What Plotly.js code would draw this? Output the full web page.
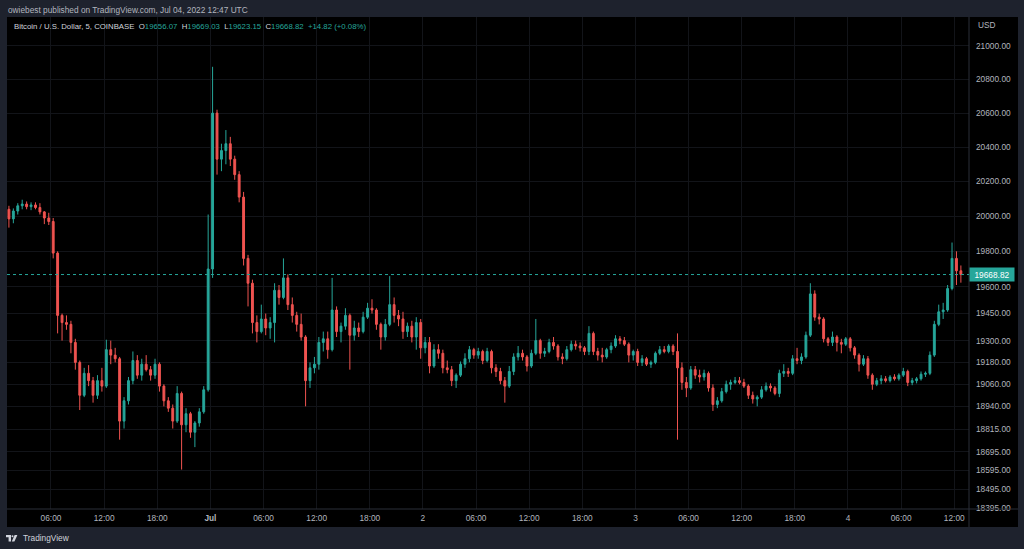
<!DOCTYPE html>
<html><head><meta charset="utf-8">
<script src="https://cdn.plot.ly/plotly-3.0.1.min.js"></script>
<style>html,body{margin:0;padding:0;background:#1e222d;overflow:hidden}#chart{width:1024px;height:549px}</style>
</head><body><div id="chart"></div>
<script>
// 30-minute candles (COINBASE), Jun 30 01:00 – Jul 4 12:30 UTC
const startTimeUTC = Date.UTC(2022, 5, 30, 1, 0);
const intervalMinutes = 30;

const openPrices = [
20040,19985,20030,20060,20070,20055,20065,20050,20025,19990,
19970,19790,19440,19400,19390,19290,19180,19000,19120,19080,
19000,19080,19050,19250,19220,19200,18860,18970,19080,19190,
19110,19170,19140,19110,19170,19050,18970,18930,18860,19010,
18840,18900,18800,18850,18910,19030,19700,20600,20330,20380,
20420,20330,20240,20110,19760,19620,19400,19350,19420,19370,
19400,19580,19540,19650,19500,19440,19390,19320,19080,19150,
19170,19290,19310,19250,19470,19350,19380,19440,19330,19370,
19350,19430,19480,19470,19390,19320,19390,19500,19440,19420,
19350,19380,19320,19400,19260,19290,19160,19250,19230,19150,
19140,19080,19110,19170,19200,19250,19220,19240,19190,19240,
19150,19130,19080,19050,19130,19210,19230,19210,19160,19230,
19300,19230,19240,19290,19270,19210,19200,19250,19280,19270,
19260,19240,19340,19240,19220,19210,19250,19270,19310,19300,
19280,19220,19240,19180,19200,19170,19180,19230,19250,19240,
19270,19240,19150,19070,19040,19140,19110,19100,19120,19040,
18950,18970,19020,19060,19070,19080,19070,19050,19000,18980,
18990,19030,19050,19040,19010,19120,19130,19120,19200,19190,
19210,19330,19560,19430,19420,19310,19290,19320,19290,19280,
19310,19260,19220,19170,19200,19110,19060,19080,19090,19080,
19100,19090,19110,19130,19070,19080,19090,19115,19120,19220,
19390,19460,19470,19590,19760,19690];

const highPrices = [
20060,20045,20075,20095,20085,20080,20080,20075,20030,20020,
19990,19800,19450,19440,19410,19310,19190,19150,19165,19100,
19110,19150,19305,19300,19260,19210,18990,19100,19240,19220,
19200,19220,19160,19200,19180,19060,18990,18950,19050,19020,
18930,18910,18860,18930,19050,20010,20875,20620,20420,20500,
20460,20350,20260,20140,19780,19640,19440,19500,19450,19430,
19620,19610,19760,19670,19540,19460,19450,19330,19180,19210,
19320,19350,19350,19650,19490,19400,19480,19450,19410,19400,
19460,19510,19530,19480,19400,19420,19660,19540,19470,19460,
19400,19410,19430,19420,19320,19320,19280,19280,19250,19190,
19160,19120,19185,19230,19270,19260,19260,19250,19260,19250,
19170,19150,19100,19160,19230,19270,19250,19220,19250,19420,
19310,19260,19310,19320,19280,19230,19270,19300,19300,19290,
19270,19380,19350,19260,19260,19260,19290,19330,19325,19320,
19290,19250,19255,19220,19210,19190,19240,19270,19270,19280,
19280,19340,19180,19100,19160,19160,19140,19140,19130,19060,
18990,19040,19080,19085,19100,19100,19090,19060,19020,19000,
19050,19070,19065,19050,19140,19170,19150,19220,19260,19230,
19350,19620,19580,19450,19430,19320,19350,19330,19310,19320,
19320,19270,19230,19220,19215,19120,19095,19110,19105,19110,
19115,19120,19150,19140,19095,19100,19130,19130,19240,19410,
19500,19510,19610,19850,19800,19720];

const lowPrices = [
19935,19960,20010,20040,20040,20035,20040,20010,19955,19950,
19760,19340,19300,19360,19230,19140,18920,18990,19050,18960,
18980,19020,19040,19170,19180,18760,18820,18950,19060,19090,
19080,19130,19080,19090,19020,18940,18910,18820,18850,18600,
18800,18770,18720,18830,18900,19020,19650,20240,20260,20300,
20290,20210,20080,19720,19490,19340,19290,19340,19330,19310,
19290,19500,19530,19470,19400,19350,19300,18940,19040,19120,
19140,19240,19200,19240,19320,19290,19360,19140,19300,19320,
19340,19420,19450,19360,19250,19300,19380,19400,19380,19310,
19320,19290,19250,19200,19230,19120,19150,19200,19120,19120,
19050,19040,19100,19150,19180,19200,19200,19170,19180,19120,
19100,19060,18960,19040,19110,19190,19190,19130,19150,19220,
19200,19210,19230,19250,19190,19170,19190,19240,19250,19240,
19220,19220,19220,19190,19180,19200,19230,19260,19280,19270,
19180,19190,19160,19160,19160,19150,19170,19220,19230,19230,
19220,18760,19030,18990,19030,19090,19070,19080,19020,18915,
18930,18960,19010,19030,19060,19060,19040,18980,18955,18940,
18980,19020,19020,19000,18990,19100,19100,19110,19170,19170,
19200,19320,19410,19390,19290,19270,19270,19240,19230,19270,
19240,19200,19130,19160,19090,19030,19050,19060,19070,19070,
19080,19080,19100,19050,19055,19065,19080,19100,19110,19210,
19380,19420,19460,19580,19610,19623.15];

const closePrices = [
19985,20030,20060,20070,20055,20065,20050,20025,19990,19970,
19790,19440,19400,19390,19290,19180,19000,19120,19080,19000,
19080,19050,19250,19220,19200,18860,18970,19080,19190,19110,
19170,19140,19110,19170,19050,18970,18930,18860,19010,18840,
18900,18800,18850,18910,19030,19700,20600,20330,20380,20420,
20330,20240,20110,19760,19620,19400,19350,19420,19370,19400,
19580,19540,19650,19500,19440,19390,19320,19080,19150,19170,
19290,19310,19250,19470,19350,19380,19440,19330,19370,19350,
19430,19480,19470,19390,19320,19390,19500,19440,19420,19350,
19380,19320,19400,19260,19290,19160,19250,19230,19150,19140,
19080,19110,19170,19200,19250,19220,19240,19190,19240,19150,
19130,19080,19050,19130,19210,19230,19210,19160,19230,19300,
19230,19240,19290,19270,19210,19200,19250,19280,19270,19260,
19240,19340,19240,19220,19210,19250,19270,19310,19300,19280,
19220,19240,19180,19200,19170,19180,19230,19250,19240,19270,
19240,19150,19070,19040,19140,19110,19100,19120,19040,18950,
18970,19020,19060,19070,19080,19070,19050,19000,18980,18990,
19030,19050,19040,19010,19120,19130,19120,19200,19190,19210,
19330,19560,19430,19420,19310,19290,19320,19290,19280,19310,
19260,19220,19170,19200,19110,19060,19080,19090,19080,19100,
19090,19110,19130,19070,19080,19090,19115,19120,19220,19390,
19460,19470,19590,19760,19690,19668.82];

const xTickVals = ['2022-06-30 06:00','2022-06-30 12:00','2022-06-30 18:00','2022-07-01 00:00',
  '2022-07-01 06:00','2022-07-01 12:00','2022-07-01 18:00','2022-07-02 00:00',
  '2022-07-02 06:00','2022-07-02 12:00','2022-07-02 18:00','2022-07-03 00:00',
  '2022-07-03 06:00','2022-07-03 12:00','2022-07-03 18:00','2022-07-04 00:00',
  '2022-07-04 06:00','2022-07-04 12:00'];
const xTickText = ['06:00','12:00','18:00','<b>Jul</b>','06:00','12:00','18:00','2',
  '06:00','12:00','18:00','3','06:00','12:00','18:00','4','06:00','12:00'];
const yTickVals = [21000,20800,20600,20400,20200,20000,19800,19600,19450,19300,19180,19060,18940,18815,18695,18595,18495,18395];
const yTickText = yTickVals.map(v => v.toFixed(2));

const lastBar = {o:'19656.07', h:'19669.03', l:'19623.15', c:'19668.82', chg:'+14.82 (+0.08%)'};
const headerText = 'owiebest published on TradingView.com, Jul 04, 2022 12:47 UTC';
const symbolText = 'Bitcoin / U.S. Dollar, 5, COINBASE';

// ---- rendering ----
const times = closePrices.map((_, i) => new Date(startTimeUTC + (i * intervalMinutes + intervalMinutes / 2) * 60000)
  .toISOString().slice(0, 19).replace('T', ' '));
const lastClose = closePrices[closePrices.length - 1];

const W = 1024, H = 549, L = 7, R = 969, T = 17, B = 509;
const px = x => (x - L) / (R - L);
const py = y => (B - y) / (B - T);

const UP = '#26a69a', DOWN = '#ef5350';
const FONT = 'Liberation Sans, Arial, sans-serif';
const AX = '#b2b5be';
const GRID = '#121419';

const trace = {
  type: 'candlestick', x: times,
  open: openPrices, high: highPrices, low: lowPrices, close: closePrices,
  increasing: {line: {color: UP, width: 1}, fillcolor: UP},
  decreasing: {line: {color: DOWN, width: 1}, fillcolor: DOWN},
  whiskerwidth: 0, hoverinfo: 'skip', showlegend: false
};

const sp = ' &nbsp;';
const v = t => `<span style="color:${UP}">${t}</span>`;
const symbolLine = `${symbolText}${sp}O${v(lastBar.o)}${sp}H${v(lastBar.h)}${sp}L${v(lastBar.l)}${sp}C${v(lastBar.c)}${sp}${v(lastBar.chg)}`;

const layout = {
  width: W, height: H,
  margin: {l: L, r: W - R, t: T, b: H - B, pad: 0},
  paper_bgcolor: '#1e222d', plot_bgcolor: '#000000',
  font: {family: FONT, color: AX, size: 8.3},
  showlegend: false, hovermode: false, dragmode: false,
  boxgap: 0.4,
  xaxis: {
    type: 'date', range: ['2022-06-30 01:02', '2022-07-04 13:40'],
    tickmode: 'array', tickvals: xTickVals, ticktext: xTickText,
    showgrid: true, gridcolor: GRID, gridwidth: 1, zeroline: false, showline: false,
    ticks: '', tickfont: {size: 8.3, color: AX, family: FONT}, ticklabelstandoff: 3,
    rangeslider: {visible: false}, fixedrange: true
  },
  yaxis: {
    type: 'log', side: 'right',
    range: [Math.log10(18391), Math.log10(21175)],
    tickmode: 'array', tickvals: yTickVals, ticktext: yTickText,
    showgrid: true, gridcolor: GRID, gridwidth: 1, zeroline: false, showline: false,
    ticks: '', tickfont: {size: 8.3, color: AX, family: FONT}, ticklabelstandoff: 6,
    fixedrange: true
  },
  shapes: [
    {type: 'rect', xref: 'paper', yref: 'paper', x0: px(7), x1: px(1018), y0: py(17), y1: py(527),
      fillcolor: '#000000', line: {width: 0}, layer: 'below'},
    {type: 'line', xref: 'paper', yref: 'paper', x0: 1, x1: 1, y0: py(17), y1: py(527),
      line: {color: '#2a2e39', width: 1}},
    {type: 'line', xref: 'paper', yref: 'paper', x0: 0, x1: px(1018), y0: 0, y1: 0,
      line: {color: '#2a2e39', width: 1}},
    {type: 'line', xref: 'paper', yref: 'y', x0: 0, x1: 1, y0: lastClose, y1: lastClose,
      line: {color: UP, width: 1, dash: 'dot'}},
    // TradingView logo (approximation)
    {type: 'path', xref: 'paper', yref: 'paper', fillcolor: '#d1d4dc', line: {width: 0},
      path: `M ${px(6)} ${py(535)} L ${px(11)} ${py(535)} L ${px(11)} ${py(541.5)} L ${px(8.6)} ${py(541.5)} L ${px(8.6)} ${py(537.3)} L ${px(6)} ${py(537.3)} Z`},
    {type: 'circle', xref: 'paper', yref: 'paper', fillcolor: '#d1d4dc', line: {width: 0},
      x0: px(11.5), x1: px(13.5), y0: py(537.2), y1: py(535.2)},
    {type: 'path', xref: 'paper', yref: 'paper', fillcolor: '#d1d4dc', line: {width: 0},
      path: `M ${px(14.6)} ${py(535)} L ${px(17.4)} ${py(535)} L ${px(14.4)} ${py(541.5)} L ${px(11.8)} ${py(541.5)} Z`}
  ],
  annotations: [
    {xref: 'paper', yref: 'paper', x: px(6), y: py(9.7), xanchor: 'left', yanchor: 'middle',
      text: headerText, showarrow: false, font: {size: 8.3, color: AX, family: FONT}},
    {xref: 'paper', yref: 'paper', x: px(11.5), y: py(26), xanchor: 'left', yanchor: 'middle',
      text: symbolLine, showarrow: false, font: {size: 7.8, color: '#d1d4dc', family: FONT}},
    {xref: 'paper', yref: 'paper', x: px(975.5), y: py(25), xanchor: 'left', yanchor: 'middle',
      text: 'USD', showarrow: false, font: {size: 8.3, color: AX, family: FONT}},
    {xref: 'paper', yref: 'y', x: 1, y: Math.log10(lastClose), xanchor: 'left', yanchor: 'middle',
      text: lastClose.toFixed(2), showarrow: false, bgcolor: UP, borderpad: 1, width: 42, height: 11,
      font: {size: 8.3, color: '#ffffff', family: FONT}},
    {xref: 'paper', yref: 'paper', x: px(20.5), y: py(538.3), xanchor: 'left', yanchor: 'middle',
      text: 'TradingView', showarrow: false, font: {size: 8.3, color: '#d1d4dc', family: FONT}}
  ]
};

Plotly.newPlot('chart', [trace], layout, {displayModeBar: false, staticPlot: true});
</script>
</body></html>
